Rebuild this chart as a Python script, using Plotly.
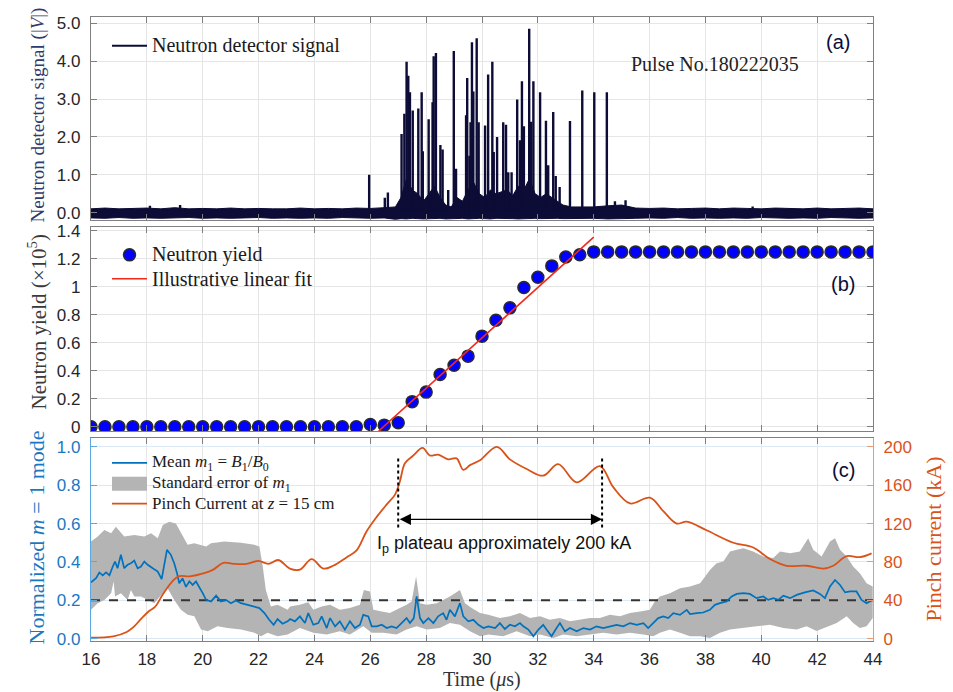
import numpy as np
import plotly.graph_objects as go

# ---------------- (a) neutron detector signal ----------------
# individual neutron pulses: time (us) and peak amplitude (V)
spike_t = [18.11, 19.19, 25.96, 26.52, 26.63, 27.12, 27.22, 27.30, 27.36, 27.42, 27.52,
           27.72, 27.84, 27.88, 28.09, 28.23, 28.27, 28.35, 28.51, 28.59, 28.79, 28.99,
           29.07, 29.43, 29.47, 29.55, 29.59, 29.64, 29.69, 29.81, 29.88, 30.11, 30.22,
           30.37, 30.42, 30.54, 30.76, 30.86, 30.94, 31.06, 31.26, 31.36, 31.43, 31.50,
           31.69, 31.76, 31.84, 32.08, 32.29, 32.37, 32.55, 32.64, 32.78, 33.15, 33.59,
           34.02, 34.47, 34.76, 35.14, 39.69]
spike_v = [0.18, 0.20, 1.00, 0.39, 0.53, 2.08, 2.61, 3.99, 3.62, 3.18, 2.70,
           2.75, 3.18, 1.62, 2.47, 2.92, 4.13, 4.22, 1.79, 1.67, 0.60, 4.27,
           1.16, 2.57, 3.56, 1.50, 2.39, 4.50, 3.20, 4.61, 2.39, 2.30, 3.65,
           3.99, 1.60, 2.00, 2.39, 2.32, 1.07, 1.07, 2.99, 1.91, 3.47, 2.28,
           4.86, 2.40, 3.47, 3.18, 2.43, 1.25, 2.66, 0.97, 0.68, 2.42, 3.23,
           3.18, 3.18, 0.30, 0.33, 0.16]

# envelope of the dense background oscillation (V)
noise_t = [16.0, 16.5, 17.0, 17.5, 18.0, 18.5, 19.0, 19.5, 20.0, 20.5, 21.0, 21.5,
           22.0, 22.5, 23.0, 23.5, 24.0, 24.5, 25.0, 25.5, 26.0, 26.5, 26.9,
           27.1, 27.3, 27.5, 27.7, 27.9, 28.1, 28.3, 28.5, 28.7, 28.9, 29.1, 29.3,
           29.5, 29.7, 29.9, 30.1, 30.3, 30.5, 30.7, 30.9, 31.1, 31.3, 31.5, 31.7,
           31.9, 32.1, 32.3, 32.5, 32.7, 32.9,
           33.2, 33.6, 34.0, 34.5, 35.0, 35.5,
           36.0, 36.5, 37.0, 37.5, 38.0, 38.5, 39.0, 39.5, 40.0, 40.5, 41.0, 41.5,
           42.0, 42.5, 43.0, 43.5, 44.0]
noise_hi = [0.10, 0.12, 0.10, 0.11, 0.12, 0.10, 0.13, 0.10, 0.11, 0.10, 0.12, 0.10,
            0.11, 0.10, 0.10, 0.12, 0.10, 0.11, 0.10, 0.12, 0.11, 0.13, 0.15,
            0.40, 0.90, 0.60, 0.50, 0.30, 0.50, 0.70, 0.40, 0.20, 0.15, 0.40, 0.30,
            0.60, 0.80, 0.50, 0.40, 0.60, 0.50, 0.55, 0.60, 0.45, 0.70, 0.60, 0.90,
            0.50, 0.40, 0.50, 0.40, 0.30, 0.20,
            0.15, 0.15, 0.15, 0.18, 0.20, 0.12,
            0.11, 0.12, 0.10, 0.11, 0.12, 0.10, 0.12, 0.11, 0.10, 0.12, 0.11, 0.10,
            0.12, 0.10, 0.11, 0.12, 0.10]
noise_lo = [-0.14, -0.15, -0.13, -0.15, -0.14, -0.15, -0.14, -0.13, -0.15, -0.14, -0.15, -0.14,
            -0.13, -0.15, -0.14, -0.15, -0.14, -0.15, -0.13, -0.14, -0.15, -0.14, -0.18,
            -0.16, -0.17, -0.15, -0.16, -0.17, -0.15, -0.16, -0.15, -0.17, -0.18, -0.16, -0.15,
            -0.17, -0.16, -0.15, -0.16, -0.17, -0.15, -0.16, -0.15, -0.16, -0.17, -0.15, -0.16,
            -0.15, -0.16, -0.17, -0.16, -0.15, -0.16,
            -0.15, -0.16, -0.15, -0.17, -0.16, -0.15,
            -0.14, -0.15, -0.13, -0.15, -0.14, -0.15, -0.14, -0.15, -0.13, -0.14, -0.15, -0.14,
            -0.15, -0.13, -0.14, -0.15, -0.14]

# ---------------- (b) neutron yield ----------------
yield_t = np.arange(16.0, 44.01, 0.5)
yield_v = [0, 0, 0, 0, 0, 0, 0, 0, 0, 0, 0, 0, 0, 0, 0, 0, 0, 0, 0, 0,
           0.017, 0.012, 0.029,
           0.180, 0.248, 0.374, 0.440, 0.505, 0.648, 0.762, 0.850, 0.995, 1.069, 1.150, 1.214, 1.229,
           1.25, 1.25, 1.25, 1.25, 1.25, 1.25, 1.25, 1.25, 1.25, 1.25, 1.25,
           1.25, 1.25, 1.25, 1.25, 1.25, 1.25, 1.25, 1.25, 1.25, 1.25]
fit_t = [26.3, 34.0]
fit_v = [-0.03, 1.355]

# ---------------- (c) m = 1 mode and pinch current ----------------
m1_t = [16.00, 16.18, 16.30, 16.42, 16.54, 16.66, 16.78, 16.86, 16.95, 17.07, 17.19, 17.31,
        17.43, 17.55, 17.67, 17.79, 17.91, 18.03, 18.21, 18.39, 18.53, 18.63, 18.72, 18.86,
        18.98, 19.08, 19.16, 19.28, 19.40, 19.52, 19.64, 19.76, 19.88, 20.00, 20.12, 20.30,
        20.48, 20.65, 20.83, 21.01, 21.19, 21.37, 21.61, 21.85, 22.03, 22.21, 22.38, 22.54,
        22.68, 22.86, 23.04, 23.13, 23.30, 23.48, 23.66, 23.78, 23.96, 24.14, 24.26, 24.44,
        24.56, 24.74, 24.91, 25.09, 25.27, 25.45, 25.63, 25.75, 25.93, 26.05, 26.23, 26.41,
        26.59, 26.76, 26.94, 27.12, 27.30, 27.42, 27.56, 27.66, 27.78, 27.90, 28.08, 28.26,
        28.43, 28.61, 28.73, 28.85, 29.03, 29.21, 29.33, 29.51, 29.69, 29.87, 30.05, 30.23,
        30.47, 30.64, 30.82, 31.00, 31.18, 31.36, 31.48, 31.66, 31.84, 32.02, 32.19, 32.31,
        32.49, 32.67, 32.79, 32.97, 33.15, 33.39, 33.63, 33.87, 34.10, 34.34, 34.58, 34.82,
        35.06, 35.30, 35.54, 35.78, 35.95, 36.13, 36.31, 36.49, 36.67, 36.85, 37.09, 37.33,
        37.45, 37.69, 37.92, 38.16, 38.34, 38.52, 38.76, 38.94, 39.12, 39.36, 39.59, 39.83,
        40.07, 40.25, 40.43, 40.61, 40.79, 41.03, 41.27, 41.56, 41.86, 42.10, 42.28, 42.46,
        42.64, 42.82, 43.00, 43.18, 43.41, 43.59, 43.77, 43.99]
m1_v = [0.293, 0.315, 0.345, 0.330, 0.345, 0.330, 0.376, 0.402, 0.367, 0.437, 0.367, 0.385,
        0.393, 0.407, 0.367, 0.376, 0.402, 0.385, 0.367, 0.350, 0.310, 0.385, 0.463, 0.437,
        0.393, 0.341, 0.289, 0.315, 0.270, 0.298, 0.280, 0.298, 0.270, 0.237, 0.202, 0.194,
        0.224, 0.194, 0.202, 0.185, 0.199, 0.185, 0.176, 0.168, 0.159, 0.133, 0.098, 0.072,
        0.102, 0.078, 0.090, 0.102, 0.090, 0.116, 0.081, 0.133, 0.072, 0.081, 0.116, 0.055,
        0.107, 0.064, 0.090, 0.047, 0.090, 0.055, 0.072, 0.124, 0.116, 0.064, 0.064, 0.072,
        0.055, 0.064, 0.055, 0.081, 0.107, 0.081, 0.107, 0.220, 0.107, 0.081, 0.107, 0.081,
        0.116, 0.133, 0.098, 0.150, 0.116, 0.185, 0.116, 0.090, 0.098, 0.072, 0.055, 0.064,
        0.055, 0.081, 0.050, 0.072, 0.064, 0.081, 0.064, 0.047, 0.012, 0.047, 0.072, 0.047,
        0.012, 0.055, 0.081, 0.038, 0.055, 0.038, 0.055, 0.047, 0.064, 0.055, 0.064, 0.072,
        0.064, 0.081, 0.072, 0.081, 0.055, 0.081, 0.107, 0.116, 0.107, 0.133, 0.124, 0.150,
        0.128, 0.133, 0.136, 0.150, 0.176, 0.185, 0.194, 0.220, 0.233, 0.237, 0.233, 0.211,
        0.220, 0.202, 0.211, 0.202, 0.224, 0.211, 0.228, 0.241, 0.251, 0.233, 0.211, 0.272,
        0.306, 0.280, 0.241, 0.246, 0.246, 0.202, 0.185, 0.202]

se_up_t = [16.00, 16.24, 16.48, 16.72, 16.89, 17.19, 17.55, 17.91, 18.15, 18.39, 18.57, 18.80,
           19.04, 19.22, 19.46, 19.70, 19.94, 20.12, 20.30, 20.77, 21.37, 21.85, 22.03, 22.15,
           22.26, 22.44, 22.68, 23.04, 23.13, 23.48, 23.78, 23.96, 24.26, 24.56, 24.91, 25.27,
           25.63, 25.77, 25.99, 26.11, 26.41, 26.70, 27.06, 27.30, 27.48, 27.64, 27.78, 28.02,
           28.38, 28.61, 28.85, 29.21, 29.39, 29.63, 29.93, 30.23, 30.64, 31.00, 31.36, 31.72,
           32.08, 32.43, 32.79, 33.15, 33.51, 33.87, 34.22, 34.58, 34.94, 35.30, 35.66, 36.01,
           36.19, 36.37, 36.73, 37.09, 37.45, 37.81, 38.16, 38.40, 38.64, 38.88, 39.12, 39.36,
           39.71, 40.07, 40.43, 40.67, 41.03, 41.38, 41.68, 41.86, 42.16, 42.46, 42.64, 42.82,
           43.06, 43.29, 43.53, 43.77, 43.99]
se_up = [0.506, 0.532, 0.567, 0.550, 0.584, 0.532, 0.541, 0.532, 0.550, 0.524, 0.593, 0.610,
         0.601, 0.550, 0.489, 0.497, 0.489, 0.480, 0.497, 0.506, 0.500, 0.489, 0.480, 0.376,
         0.254, 0.168, 0.176, 0.150, 0.168, 0.176, 0.189, 0.150, 0.168, 0.176, 0.150, 0.159,
         0.176, 0.254, 0.246, 0.150, 0.141, 0.133, 0.159, 0.176, 0.194, 0.324, 0.185, 0.176,
         0.185, 0.202, 0.220, 0.254, 0.185, 0.159, 0.133, 0.124, 0.107, 0.116, 0.133, 0.107,
         0.116, 0.098, 0.107, 0.090, 0.098, 0.107, 0.107, 0.124, 0.116, 0.133, 0.141, 0.150,
         0.194, 0.220, 0.237, 0.263, 0.272, 0.289, 0.358, 0.393, 0.402, 0.454, 0.463, 0.471,
         0.454, 0.428, 0.420, 0.454, 0.445, 0.454, 0.523, 0.463, 0.428, 0.506, 0.523, 0.463,
         0.428, 0.376, 0.341, 0.289, 0.272]

se_lo_t = [16.00, 16.24, 16.48, 16.72, 16.81, 16.86, 17.07, 17.31, 17.43, 17.55, 17.79, 18.03,
           18.27, 18.51, 18.74, 18.98, 19.22, 19.46, 19.70, 19.94, 20.18, 20.53, 20.89, 21.37,
           21.85, 22.09, 22.32, 22.68, 23.04, 23.48, 23.96, 24.44, 24.91, 25.27, 25.75, 26.05,
           26.47, 26.94, 27.30, 27.66, 28.02, 28.49, 28.85, 29.21, 29.57, 29.93, 30.23, 30.76,
           31.24, 31.72, 32.08, 32.55, 32.91, 33.39, 33.87, 34.34, 34.82, 35.30, 35.78, 36.13,
           36.37, 36.73, 37.09, 37.45, 37.81, 38.16, 38.52, 38.88, 39.36, 39.83, 40.31, 40.79,
           41.27, 41.62, 41.98, 42.34, 42.70, 43.06, 43.29, 43.53, 43.77, 43.99]
se_lo = [0.150, 0.185, 0.202, 0.237, 0.298, 0.220, 0.237, 0.202, 0.254, 0.220, 0.220, 0.202,
         0.185, 0.228, 0.263, 0.202, 0.150, 0.124, 0.116, 0.047, 0.038, 0.064, 0.055, 0.047,
         0.030, 0.012, 0.030, 0.012, 0.021, 0.055, 0.030, 0.021, 0.038, 0.021, 0.064, 0.030,
         0.030, 0.021, 0.047, 0.064, 0.047, 0.055, 0.081, 0.072, 0.038, 0.012, 0.021, 0.012,
         0.038, 0.012, 0.021, 0.003, 0.021, 0.012, 0.021, 0.030, 0.021, 0.030, 0.021, 0.012,
         0.030, 0.047, 0.030, 0.012, 0.012, 0.003, 0.030, 0.047, 0.055, 0.064, 0.072, 0.055,
         0.047, 0.064, 0.040, 0.060, 0.081, 0.116, 0.081, 0.055, 0.064, 0.107]

ip_t = [16.00, 16.80, 17.28, 17.52, 17.81, 18.05, 18.29, 18.59, 18.89, 19.13, 19.54, 20.02,
        20.38, 20.74, 21.10, 21.57, 21.99, 22.35, 22.71, 23.12, 23.48, 23.90, 24.32, 24.67,
        25.16, 25.51, 25.87, 26.23, 26.59, 26.88, 27.06, 27.24, 27.54, 27.87, 28.14, 28.43,
        28.79, 29.09, 29.33, 29.57, 29.93, 30.53, 31.00, 31.60, 32.19, 32.73, 33.39, 34.22,
        34.70, 35.30, 36.01, 36.49, 36.97, 37.33, 38.04, 39.00, 39.71, 40.31, 40.91, 41.62,
        42.22, 42.58, 43.06, 43.53, 43.95]
ip_ka = [1, 2.4, 6.9, 12, 21, 28, 33, 47, 59, 65, 65, 68,
         72, 79, 78, 78, 81, 78, 82, 73, 72, 83, 73, 76,
         85, 92, 112, 127, 140, 150, 164, 183, 191, 199, 191, 192,
         187, 188, 176, 181, 186, 200, 187, 177, 170, 182, 163, 180,
         158, 141, 147, 133, 120, 122, 113, 100, 95, 83, 76, 76,
         73, 76, 86, 85, 89]

m1_threshold = 0.2
plateau_start, plateau_end = 27.0, 34.3
plateau_label = "I<sub>p</sub> plateau approximately 200 kA"

# ---------------- styling ----------------
SERIF = "Liberation Serif"
SANS = "Liberation Sans"
NAVY = "#0c0c36"
BLUE = "#0072BD"
ORANGE = "#D95319"
BAND = "#b4b4b4"
FIT_RED = "#f0281e"
DOT_BLUE = "#0000ff"
DOT_EDGE = "#2a2a2a"
FRAME = "#808080"
TICKFONT = dict(family=SANS, size=17, color="#262626")

# plot area in pixels (left, right, top, bottom) for paper-coordinate helpers
L, R, T, B = 91, 873, 14, 641


def px(x):
    return (x - L) / (R - L)


def py(y):
    return (B - y) / (B - T)


fig = go.Figure()

# (a) background band + pulses
fig.add_trace(go.Scatter(
    x=noise_t + noise_t[::-1], y=noise_hi + noise_lo[::-1],
    fill="toself", fillcolor=NAVY, line=dict(color=NAVY, width=1),
    mode="lines", showlegend=False, hoverinfo="skip", xaxis="x", yaxis="y"))
sx, sy = [], []
for t, v in zip(spike_t, spike_v):
    sx += [t, t, None]
    sy += [0, v, None]
fig.add_trace(go.Scatter(
    x=sx, y=sy, mode="lines", line=dict(color=NAVY, width=2.4),
    name="Neutron detector signal", showlegend=False, xaxis="x", yaxis="y"))

# (b) yield points and linear fit
fig.add_trace(go.Scatter(
    x=yield_t, y=yield_v, mode="markers", name="Neutron yield", showlegend=False,
    marker=dict(size=12, color=DOT_BLUE, line=dict(color=DOT_EDGE, width=1.5)),
    xaxis="x2", yaxis="y2"))
fig.add_trace(go.Scatter(
    x=fit_t, y=fit_v, mode="lines", name="Illustrative linear fit", showlegend=False,
    line=dict(color=FIT_RED, width=1.6), xaxis="x2", yaxis="y2"))

# (c) standard-error band, threshold, mean m1, pinch current
fig.add_trace(go.Scatter(
    x=se_up_t + se_lo_t[::-1], y=se_up + se_lo[::-1],
    fill="toself", fillcolor=BAND, line=dict(width=0), mode="lines",
    name="Standard error of m1", showlegend=False, xaxis="x3", yaxis="y3"))
fig.add_trace(go.Scatter(
    x=[16, 44], y=[m1_threshold, m1_threshold], mode="lines",
    line=dict(color="#333333", width=2, dash="dash"), showlegend=False,
    xaxis="x3", yaxis="y3"))
fig.add_trace(go.Scatter(
    x=m1_t, y=m1_v, mode="lines", line=dict(color=BLUE, width=1.7),
    name="Mean m1", showlegend=False, xaxis="x3", yaxis="y3"))
fig.add_trace(go.Scatter(
    x=ip_t, y=ip_ka, mode="lines", line=dict(color=ORANGE, width=1.8, shape="spline"),
    name="Pinch current", showlegend=False, xaxis="x3", yaxis="y4"))

xcommon = dict(range=[16, 44], tick0=16, dtick=2, showgrid=True, gridcolor="#e6e6e6",
               showline=True, linecolor=FRAME, linewidth=1.3, mirror="ticks",
               ticks="inside", ticklen=6, tickcolor=FRAME, zeroline=False,
               tickfont=TICKFONT)
ycommon = dict(showgrid=True, gridcolor="#e6e6e6", showline=True, linecolor=FRAME,
               linewidth=1.3, mirror="ticks", ticks="inside", ticklen=6,
               tickcolor=FRAME, zeroline=False, tickfont=TICKFONT, ticklabelstandoff=6)

dom_a, dom_b, dom_c = [0.675, 1.0], [0.3365, 0.6635], [0.0, 0.3258]

fig.update_layout(
    width=953, height=692,
    margin=dict(l=L, r=953 - R, t=T, b=692 - B),
    paper_bgcolor="white", plot_bgcolor="white", showlegend=False,
    xaxis=dict(xcommon, anchor="y", showticklabels=False),
    xaxis2=dict(xcommon, anchor="y2", showticklabels=False),
    xaxis3=dict(xcommon, anchor="y3", showticklabels=True, ticklabelstandoff=2),
    yaxis=dict(ycommon, domain=dom_a, range=[-0.19, 5.17], dtick=1, tickformat=".1f"),
    yaxis2=dict(ycommon, domain=dom_b, range=[-0.03, 1.428],
                tickvals=[0, 0.2, 0.4, 0.6, 0.8, 1.0, 1.2, 1.4],
                ticktext=["0", "0.2", "0.4", "0.6", "0.8", "1", "1.2", "1.4"]),
    yaxis3=dict(domain=dom_c, range=[-0.0125, 1.048], dtick=0.2, tickformat=".1f",
                showgrid=True, gridcolor="#dce8f5", showline=True, linecolor="#5ea8e0",
                linewidth=1.3, mirror=False, ticks="inside", ticklen=6, tickcolor="#5ea8e0",
                zeroline=False, tickfont=dict(family=SANS, size=17, color="#1a78c2"),
                ticklabelstandoff=6),
    yaxis4=dict(overlaying="y3", side="right", anchor="x3", range=[-2.5, 209.6], dtick=40,
                showgrid=False, showline=True, linecolor="#eb9a74", linewidth=1.3,
                ticks="inside", ticklen=6, tickcolor="#eb9a74", zeroline=False,
                tickfont=dict(family=SANS, size=17, color=ORANGE), ticklabelstandoff=6),
)

# ---- legends (symbol + label per row) ----
def legend_text(x, y, text, size):
    fig.add_annotation(xref="paper", yref="paper", x=px(x), y=py(y), text=text,
                       xanchor="left", yanchor="middle", showarrow=False,
                       font=dict(family=SERIF, size=size, color="#1a1a1a"))


def legend_line(y, color, width):
    fig.add_shape(type="line", xref="paper", yref="paper", x0=px(112), x1=px(147),
                  y0=py(y), y1=py(y), line=dict(color=color, width=width))


legend_line(43, NAVY, 2)
legend_text(150, 43, "Neutron detector signal", 20)

fig.add_shape(type="circle", xref="paper", yref="paper", xsizemode="pixel", ysizemode="pixel",
              xanchor=px(129.5), yanchor=py(253), x0=-6, x1=6, y0=-6, y1=6,
              fillcolor=DOT_BLUE, line=dict(color=DOT_EDGE, width=1.5))
legend_text(150, 253, "Neutron yield", 20)
legend_line(277, FIT_RED, 1.6)
legend_text(150, 277, "Illustrative linear fit", 20)

legend_line(462, BLUE, 1.8)
legend_text(150, 462, "Mean <i>m</i><sub>1</sub> = <i>B</i><sub>1</sub>/<i>B</i><sub>0</sub>", 17)
fig.add_shape(type="rect", xref="paper", yref="paper", x0=px(112), x1=px(147),
              y0=py(490), y1=py(476), fillcolor=BAND, line=dict(width=0))
legend_text(150, 483, "Standard error of <i>m</i><sub>1</sub>", 17)
legend_line(503, ORANGE, 1.8)
legend_text(150, 503, "Pinch Current at <i>z</i> = 15 cm", 17)

# plateau markers
for t0 in (plateau_start, plateau_end):
    fig.add_shape(type="line", xref="x3", yref="y3", x0=t0, x1=t0, y0=0.58, y1=0.94,
                  line=dict(color="black", width=2, dash="dot"))
fig.add_annotation(xref="x3", yref="y3", axref="x3", ayref="y3",
                   x=plateau_end, y=0.622, ax=plateau_start, ay=0.622,
                   showarrow=True, arrowhead=2, startarrowhead=2, arrowside="end+start",
                   arrowsize=1.6, startarrowsize=1.6, arrowwidth=1.4, arrowcolor="black",
                   text="")
fig.add_annotation(xref="x3", yref="y3", x=(plateau_start + plateau_end) / 2 + 0.15, y=0.489,
                   text=plateau_label, showarrow=False, xanchor="center", yanchor="middle",
                   font=dict(family=SANS, size=18, color="#111111"))

# panel tags and pulse number
for tag, tx, ty in (("(a)", 838, 39), ("(b)", 843, 282), ("(c)", 843, 469)):
    fig.add_annotation(xref="paper", yref="paper", x=px(tx), y=py(ty), text=tag,
                       showarrow=False, xanchor="center", yanchor="middle",
                       font=dict(family=SANS, size=20, color=NAVY))
fig.add_annotation(xref="paper", yref="paper", x=px(714.5), y=py(61),
                   text="Pulse No.180222035", showarrow=False,
                   xanchor="center", yanchor="middle",
                   font=dict(family=SERIF, size=20, color="#222222"))

# axis titles
ytitles = [
    ("Neutron detector signal (|<i>V</i>|)", 38, 113, "#2f3a6e", 19),
    ("Neutron yield (×10<sup>5</sup>)", 38, 321, "#3a3a3a", 21),
    ("Normalized <i>m</i> = 1 mode", 36, 537, "#1a78c2", 22),
    ("Pinch current (kA)", 933, 539, ORANGE, 22),
]
for txt, tx, ty, col, size in ytitles:
    fig.add_annotation(xref="paper", yref="paper", x=px(tx), y=py(ty), text=txt,
                       textangle=-90, showarrow=False, xanchor="center", yanchor="middle",
                       font=dict(family=SERIF, size=size, color=col))
fig.add_annotation(xref="paper", yref="paper", x=px(482), y=py(680), text="Time (<i>μ</i>s)",
                   showarrow=False, xanchor="center", yanchor="middle",
                   font=dict(family=SERIF, size=20, color="#333333"))

fig.write_html("out.html")
